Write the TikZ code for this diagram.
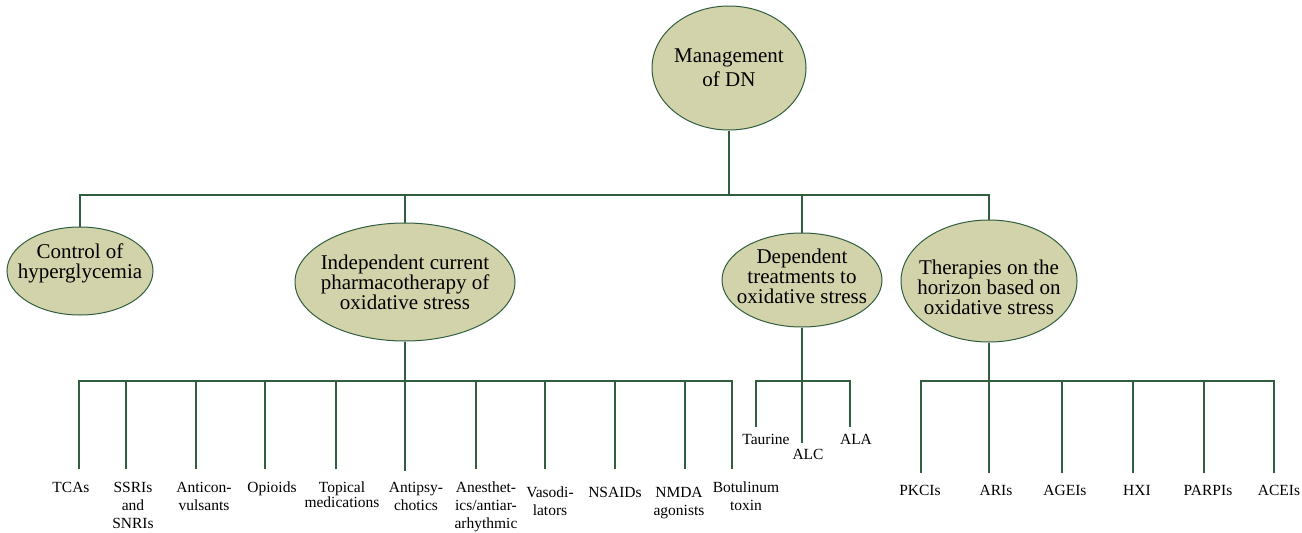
\documentclass[tikz,border=0pt]{standalone}
\usepackage{fontspec}
\setmainfont{Liberation Serif}
\usetikzlibrary{shapes.geometric}
\definecolor{treeline}{RGB}{48,94,62}
\definecolor{bubblefill}{RGB}{211,211,171}
\tikzset{
  bubble/.style={ellipse, draw=treeline, fill=bubblefill, line width=1pt, inner sep=0pt},
  bubtext/.style={align=center, inner sep=0pt, font=\fontsize{21}{20}\selectfont},
  leaf/.style={align=center, anchor=north, inner sep=0pt, font=\fontsize{15.5}{18}\selectfont},
  branch/.style={draw=treeline, line width=1.2pt},
}
\begin{document}
\begin{tikzpicture}[x=1pt,y=-1pt]
\useasboundingbox (0,0) rectangle (1302,533);

\node[bubble, minimum width=154pt, minimum height=124pt,
  label={[bubtext, font=\fontsize{21}{24}\selectfont]center:{Management\\of DN}}] (root) at (729,68) {};

\node[bubble, minimum width=146pt, minimum height=88pt,
  label={[bubtext, yshift=8pt]center:{Control of\\hyperglycemia}}] (ctrl) at (80,271) {};
\node[bubble, minimum width=220pt, minimum height=118pt,
  label={[bubtext]center:{Independent current\\pharmacotherapy of\\oxidative stress}}] (indep) at (405,282) {};
\node[bubble, minimum width=160pt, minimum height=94pt,
  label={[bubtext, yshift=4pt]center:{Dependent\\treatments to\\oxidative stress}}] (dep) at (802,280) {};
\node[bubble, minimum width=176pt, minimum height=122pt,
  label={[bubtext, yshift=-6pt]center:{Therapies on the\\horizon based on\\oxidative stress}}] (horiz) at (989,281) {};

\coordinate (topbus) at (729,195);
\coordinate (indbus) at (405,381);
\coordinate (depbus) at (802,381);
\coordinate (horbus) at (989,381);

\draw[branch] (root.south) -- (topbus);
\draw[branch] (ctrl.north) |- (topbus);
\draw[branch] (indep.north) |- (topbus);
\draw[branch] (dep.north) |- (topbus);
\draw[branch] (horiz.north) |- (topbus);
\draw[branch] (indep.south) -- (indbus);
\draw[branch] (dep.south) -- (depbus);
\draw[branch] (horiz.south) -- (horbus);

% independent pharmacotherapy
\node[leaf] (tca) at (71,482) {TCAs};
\node[leaf] (ssri) at (133,482) {SSRIs\\and\\SNRIs};
\node[leaf] (anticon) at (204,482) {Anticon-\\vulsants};
\node[leaf] (opioid) at (272,482) {Opioids};
\node[leaf, font=\fontsize{15.5}{14.5}\selectfont] (topical) at (342,482) {Topical\\medications};
\node[leaf] (antipsy) at (416,482) {Antipsy-\\chotics};
\node[leaf] (anesth) at (486,482) {Anesthet-\\ics/antiar-\\arhythmic};
\node[leaf] (vaso) at (550,487) {Vasodi-\\lators};
\node[leaf] (nsaid) at (615,487) {NSAIDs};
\node[leaf] (nmda) at (679,487) {NMDA\\agonists};
\node[leaf] (botox) at (746,482) {Botulinum\\toxin};

\coordinate (tcatip) at (79,469);
\coordinate (ssritip) at (126,469);
\coordinate (anticontip) at (196,469);
\coordinate (opioidtip) at (265,469);
\coordinate (topicaltip) at (336,469);
\coordinate (antipsytip) at (405,471);
\coordinate (anesthtip) at (476,469);
\coordinate (vasotip) at (545,469);
\coordinate (nsaidtip) at (615,469);
\coordinate (nmdatip) at (685,469);
\coordinate (botoxtip) at (732,469);

\draw[branch] (tcatip) |- (indbus);
\draw[branch] (ssritip) |- (indbus);
\draw[branch] (anticontip) |- (indbus);
\draw[branch] (opioidtip) |- (indbus);
\draw[branch] (topicaltip) |- (indbus);
\draw[branch] (antipsytip) -- (indbus);
\draw[branch] (anesthtip) |- (indbus);
\draw[branch] (vasotip) |- (indbus);
\draw[branch] (nsaidtip) |- (indbus);
\draw[branch] (nmdatip) |- (indbus);
\draw[branch] (botoxtip) |- (indbus);

% dependent treatments
\node[leaf] (taurine) at (766,434) {Taurine};
\node[leaf] (alc) at (808,449) {ALC};
\node[leaf] (ala) at (856,434) {ALA};

\coordinate (taurinetip) at (756,427);
\coordinate (alctip) at (802,443);
\coordinate (alatip) at (850,427);

\draw[branch] (taurinetip) |- (depbus);
\draw[branch] (alctip) -- (depbus);
\draw[branch] (alatip) |- (depbus);

% therapies on the horizon
\node[leaf] (pkci) at (920,485) {PKCIs};
\node[leaf] (ari) at (996,485) {ARIs};
\node[leaf] (agei) at (1065,485) {AGEIs};
\node[leaf] (hxi) at (1137,485) {HXI};
\node[leaf] (parpi) at (1208,485) {PARPIs};
\node[leaf] (acei) at (1279,485) {ACEIs};

\coordinate (pkcitip) at (921,473);
\coordinate (aritip) at (989,473);
\coordinate (ageitip) at (1062,473);
\coordinate (hxitip) at (1133,473);
\coordinate (parpitip) at (1204,473);
\coordinate (aceitip) at (1274,473);

\draw[branch] (pkcitip) |- (horbus);
\draw[branch] (aritip) -- (horbus);
\draw[branch] (ageitip) |- (horbus);
\draw[branch] (hxitip) |- (horbus);
\draw[branch] (parpitip) |- (horbus);
\draw[branch] (aceitip) |- (horbus);

\end{tikzpicture}
\end{document}
